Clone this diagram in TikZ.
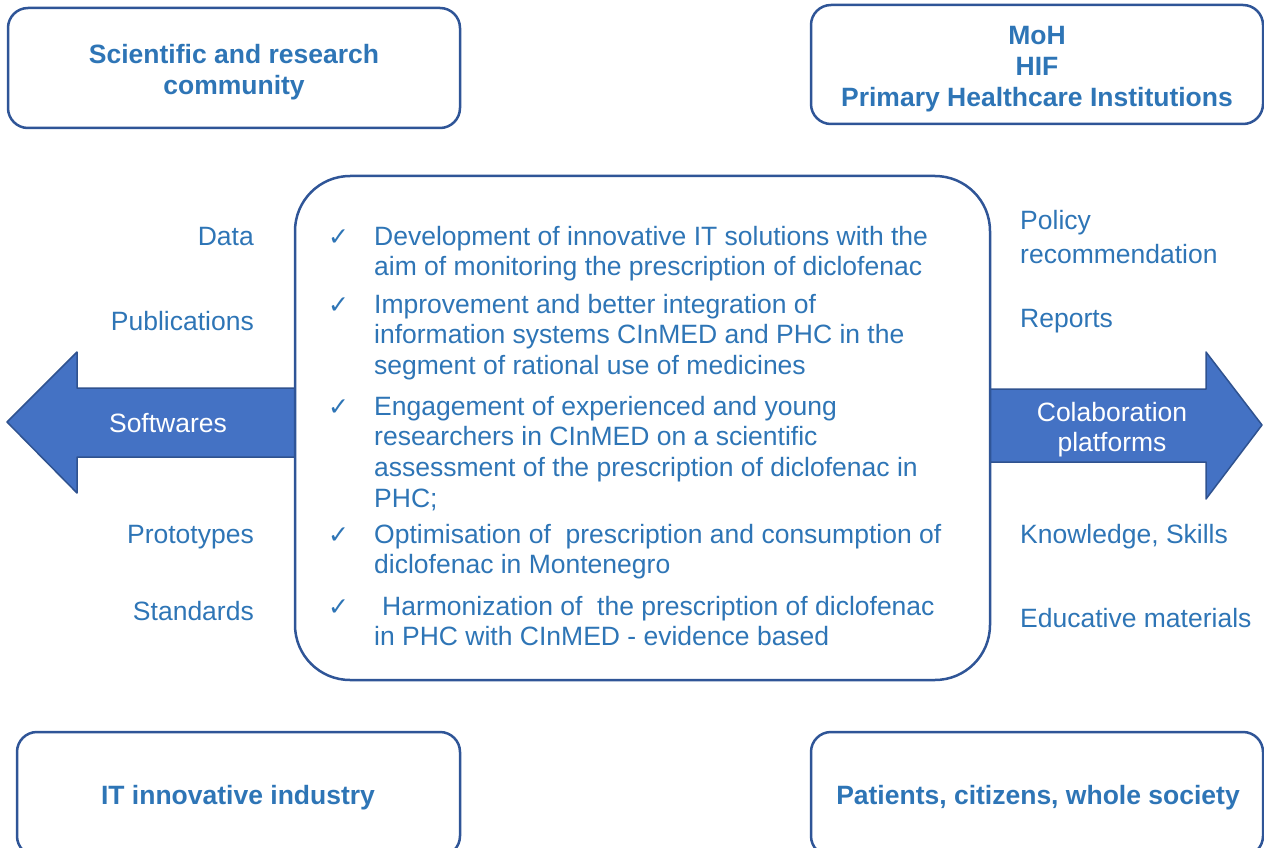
\documentclass[tikz,border=0pt]{standalone}
\usepackage{fontspec}
\setmainfont{Liberation Sans}
\newfontfamily\symfont{DejaVu Sans}
\definecolor{txtblue}{HTML}{2E75B6}
\definecolor{boxblue}{HTML}{2F5597}
\definecolor{arrfill}{HTML}{4472C4}
\definecolor{arredge}{HTML}{2F528F}
\newcommand{\tick}{{\symfont\fontsize{25}{25}\selectfont ✓}}
\newcommand{\lines}[1]{\begin{tabular}[t]{@{}l@{}}#1\end{tabular}}
\begin{document}
\begin{tikzpicture}[x=1pt,y=-1pt, line join=round,
  box/.style={draw=boxblue, line width=2.5pt, rounded corners=20pt, inner sep=0pt},
  head/.style={text=txtblue, font=\fontsize{26.5}{31.5}\selectfont\bfseries, align=center},
  lbl/.style={text=txtblue, font=\fontsize{26.5}{30.7}\selectfont, inner sep=0pt},
  arrow/.style={fill=arrfill, draw=arredge, line width=1.5pt}]
\useasboundingbox (0,0) rectangle (1264,848);
\clip (0,0) rectangle (1264,848);
% side arrows
\draw[arrow] (296,388)--(77,388)--(77,352)--(7,422)--(77,493)--(77,457)--(296,457)--cycle;
\draw[arrow] (989,389)--(1206,389)--(1206,352)--(1262,425)--(1206,499)--(1206,462)--(989,462)--cycle;
\node[lbl, text=white, align=center] (soft) at (168,423) {Softwares};
\node[lbl, text=white, align=center, font=\fontsize{26.5}{30}\selectfont] (colab) at (1112,430) {Colaboration\\platforms};
% stakeholder boxes
\node[box, minimum width=452, minimum height=120] (sci) at (234,68) {};
\node[head] (scit) at (234,72) {Scientific and research\\community};
\node[box, minimum width=452, minimum height=119] (moh) at (1037,64.5) {};
\node[head, font=\fontsize{26.5}{31}\selectfont\bfseries] (moht) at (1037,69.5) {MoH\\HIF\\Primary Healthcare Institutions};
\node[box, minimum width=443, minimum height=124] (it) at (238.5,794) {};
\node[head] (itt) at (238,798) {IT innovative industry};
\node[box, minimum width=452, minimum height=124] (pat) at (1037,794) {};
\node[head] (patt) at (1038,798) {Patients, citizens, whole society};
% central box
\node[draw=boxblue, fill=white, line width=2.5pt, rounded corners=55pt, minimum width=695, minimum height=504] (goals) at (642.5,428) {};
\foreach \y in {245,313,415,543,615}
  \node[text=txtblue, anchor=base west, inner sep=0pt] at (328,\y) {\tick};
\node[lbl, anchor=base west] (g1) at (374,245) {\lines{Development of innovative IT solutions with the\\aim of monitoring the prescription of diclofenac}};
\node[lbl, anchor=base west] (g2) at (374,313) {\lines{Improvement and better integration of\\information systems CInMED and PHC in the\\segment of rational use of medicines}};
\node[lbl, anchor=base west] (g3) at (374,415) {\lines{Engagement of experienced and young\\researchers in CInMED on a scientific\\assessment of the prescription of diclofenac in\\PHC;}};
\node[lbl, anchor=base west] (g4) at (374,543) {\lines{Optimisation of\ \ prescription and consumption of\\diclofenac in Montenegro}};
\node[lbl, anchor=base west] (g5) at (374,615) {\lines{\hspace*{8pt}Harmonization of\ \ the prescription of diclofenac\\in PHC with CInMED - evidence based}};
% outputs left
\node[lbl, anchor=base east] (data) at (254,245) {Data};
\node[lbl, anchor=base east] (publ) at (254,330) {Publications};
\node[lbl, anchor=base east] (proto) at (254,543) {Prototypes};
\node[lbl, anchor=base east] (stand) at (254,620) {Standards};
% outputs right
\node[lbl, anchor=base west, font=\fontsize{26.5}{34}\selectfont] (policy) at (1020,229) {\lines{Policy\\recommendation}};
\node[lbl, anchor=base west] (rep) at (1020,327) {Reports};
\node[lbl, anchor=base west] (know) at (1020,543) {Knowledge, Skills};
\node[lbl, anchor=base west] (edu) at (1020,627) {Educative materials};
\end{tikzpicture}
\end{document}
